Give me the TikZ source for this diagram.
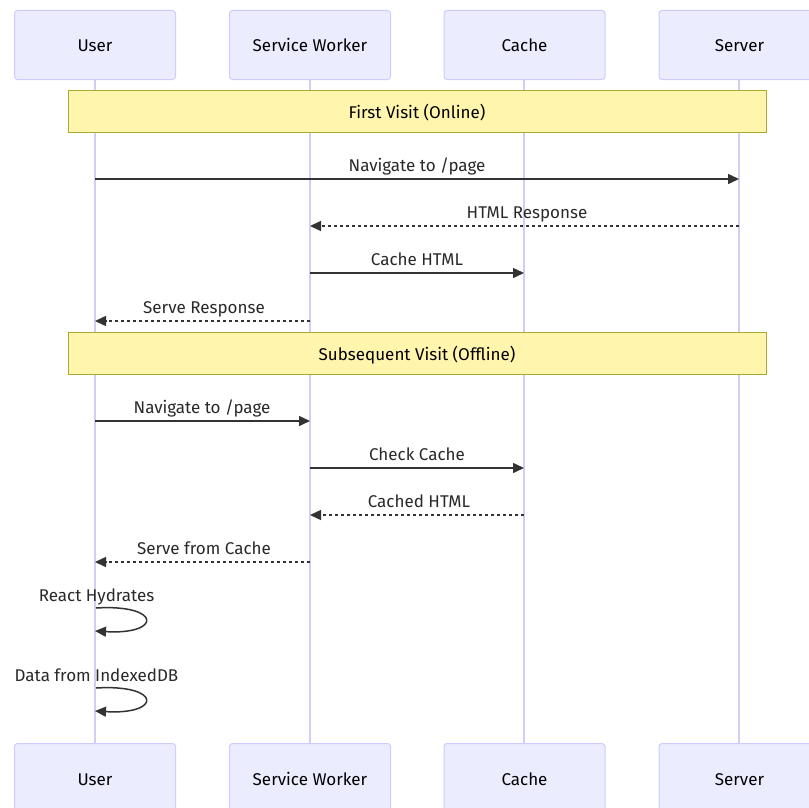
\documentclass[tikz,border=0pt]{standalone}
\usepackage{fontspec}
\setmainfont{Fira Sans}
\usetikzlibrary{arrows.meta}
\definecolor{actfill}{HTML}{ECECFF}
\definecolor{actdraw}{HTML}{CCCCFF}
\definecolor{lifeln}{HTML}{D4CCF2}
\definecolor{notefill}{HTML}{FFF5AD}
\definecolor{notedraw}{HTML}{AAAA33}
\definecolor{ink}{HTML}{333333}
\tikzset{
  txt/.style={font=\fontsize{17}{20}\selectfont, text height=14pt, text depth=0pt},
  actor/.style={txt, draw=actdraw, fill=actfill, rounded corners=3pt, line width=1pt,
    minimum width=161pt, minimum height=69pt, inner sep=0pt, text=black},
  lifeline/.style={draw=lifeln, line width=2pt},
  notebox/.style={txt, draw=notedraw, fill=notefill, line width=1pt,
    minimum width=698pt, minimum height=42pt, inner sep=0pt, text=black},
  msg/.style={draw=ink, line width=1.5pt, -{Triangle[length=11pt,width=10pt]}},
  reply/.style={msg, dash pattern=on 3pt off 3pt},
  lbl/.style={txt, text=ink!80!black, inner sep=0pt},
}
\begin{document}
\begin{tikzpicture}[x=1pt,y=-1pt]
\useasboundingbox (0,0) rectangle (808,808);
\fill[white] (0,0) rectangle (808,808);

% lifelines first, so the boxes sit on top
\foreach \x in {95,310,524,739}{\draw[lifeline] (\x,79) -- (\x,743);}

% participants, top and bottom
\node[actor] (uT) at (95,45) {User};
\node[actor] (wT) at (310,45) {Service Worker};
\node[actor] (cT) at (524.5,45) {Cache};
\node[actor] (sT) at (739.5,45) {Server};
\node[actor, anchor=north] (uB) at (95,743) {User};
\node[actor, anchor=north] (wB) at (310,743) {Service Worker};
\node[actor, anchor=north] (cB) at (524.5,743) {Cache};
\node[actor, anchor=north] (sB) at (739.5,743) {Server};

% section notes
\node[notebox] (n1) at (417,111) {First Visit (Online)};
\node[notebox] (n2) at (417,353) {Subsequent Visit (Offline)};

% message anchor points on the lifelines
\foreach \n/\y in {1/179,2/226,3/273,4/321,5/421,6/468,7/515,8/562}{
  \coordinate (u\n) at (95,\y);
  \coordinate (w\n) at (310,\y);
  \coordinate (c\n) at (524,\y);
  \coordinate (s\n) at (739,\y);
}

% first visit
\draw[msg] (u1) -- (s1);
\node[lbl] (l1) at (417,164) {Navigate to /page};
\draw[reply] (s2) -- (w2);
\node[lbl] (l2) at (527,211) {HTML Response};
\draw[msg] (w3) -- (c3);
\node[lbl] (l3) at (417,258) {Cache HTML};
\draw[reply] (w4) -- (u4);
\node[lbl] (l4) at (204,306) {Serve Response};

% subsequent visit
\draw[msg] (u5) -- (w5);
\node[lbl] (l5) at (202,406) {Navigate to /page};
\draw[msg] (w6) -- (c6);
\node[lbl] (l6) at (417,453) {Check Cache};
\draw[reply] (c7) -- (w7);
\node[lbl] (l7) at (419,500) {Cached HTML};
\draw[reply] (w8) -- (u8);
\node[lbl] (l8) at (204,547) {Serve from Cache};

% self messages on the user lifeline
\coordinate (ua) at (96,608);
\coordinate (ub) at (95,631);
\coordinate (uc) at (96,688);
\coordinate (ud) at (95,711);
\node[lbl] (l9) at (96.5,594) {React Hydrates};
\draw[msg] (ua) .. controls (162,604) and (162,635) .. (ub);
\node[lbl] (l10) at (96.5,674) {Data from IndexedDB};
\draw[msg] (uc) .. controls (162,684) and (162,715) .. (ud);
\end{tikzpicture}
\end{document}
